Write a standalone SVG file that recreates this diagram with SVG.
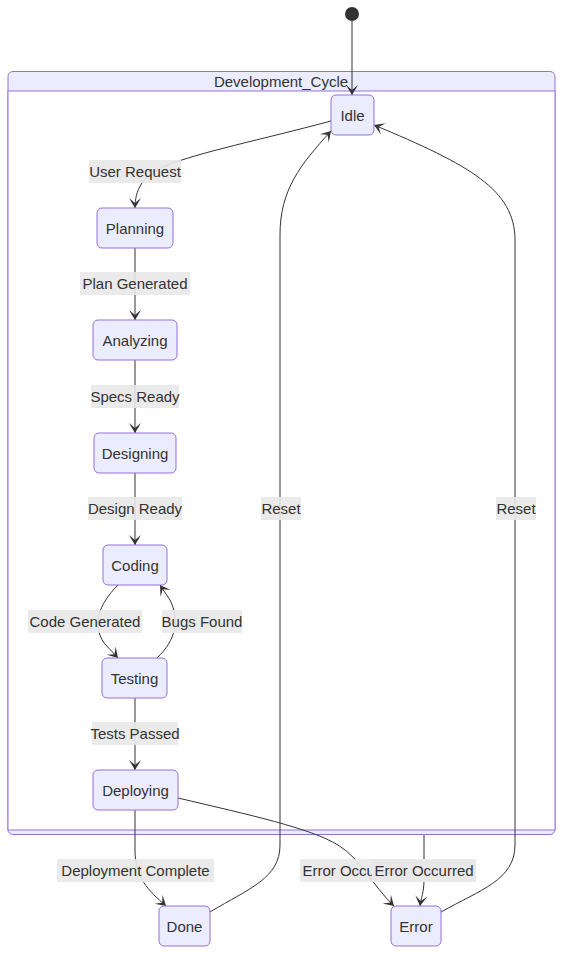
<svg xmlns="http://www.w3.org/2000/svg" width="571" height="968" viewBox="0 0 571 968">
<style>
.node rect{fill:#ECECFF;stroke:#9370DB;stroke-width:1}
text{font-family:"Liberation Sans",Arial,sans-serif;font-size:15px;fill:#333;text-anchor:middle;dominant-baseline:central}
.edge{fill:none;stroke:#333;stroke-width:1}
.lbl rect{fill:#e8e8e8;opacity:0.9}
</style>
<defs>
<marker id="arr" viewBox="0 0 20 14" refX="19" refY="7" markerWidth="20" markerHeight="14" markerUnits="userSpaceOnUse" orient="auto">
<path d="M19,7 L9,13 L14,7 L9,1 Z" fill="#333"/>
</marker>
</defs>
<g id="Development_Cycle">
<rect x="8" y="71.5" width="547" height="763" rx="5" fill="#ECECFF" stroke="#9370DB"/>
<rect x="8" y="91" width="547" height="739" fill="#fff" stroke="#9370DB"/>
<text x="281" y="81.5">Development_Cycle</text>
</g>
<g id="start"><circle cx="352" cy="14" r="7" fill="#333"/></g>
<g id="edges">
<path class="edge" d="M352,21 L352,95" marker-end="url(#arr)"/>
<path class="edge" d="M331,121 C260,140 200,152 165,166 C142,176 135,190 135,208" marker-end="url(#arr)"/>
<path class="edge" d="M135,248 L135,320" marker-end="url(#arr)"/>
<path class="edge" d="M135,360 L135,433" marker-end="url(#arr)"/>
<path class="edge" d="M135,473 L135,545" marker-end="url(#arr)"/>
<path class="edge" d="M118,585 C98,605 92,625 104,643 L118,658" marker-end="url(#arr)"/>
<path class="edge" d="M157,658 C176,640 180,620 170,600 L160,585" marker-end="url(#arr)"/>
<path class="edge" d="M135,697 L135,770" marker-end="url(#arr)"/>
<path class="edge" d="M135,810 L135,850 C135,878 148,890 166,906" marker-end="url(#arr)"/>
<path class="edge" d="M178,798 C250,815 310,828 338,845 C362,860 372,885 394,906" marker-end="url(#arr)"/>
<path class="edge" d="M424,835 L424,880 C424,892 421,898 420,906" marker-end="url(#arr)"/>
<path class="edge" d="M210,912 C250,888 280,878 280,845 L280,235 C280,190 300,165 331,131" marker-end="url(#arr)"/>
<path class="edge" d="M441,912 C480,890 515,880 515,845 L515,240 C515,190 470,165 374,125" marker-end="url(#arr)"/>
</g>
<g id="edge-labels">
<g class="lbl"><rect x="89" y="160" width="92" height="23"/><text x="135" y="171.5">User Request</text></g>
<g class="lbl"><rect x="80" y="272" width="110" height="23"/><text x="135" y="283.5">Plan Generated</text></g>
<g class="lbl"><rect x="91" y="385" width="88" height="23"/><text x="135" y="396.5">Specs Ready</text></g>
<g class="lbl"><rect x="88" y="497" width="94" height="23"/><text x="135" y="508.5">Design Ready</text></g>
<g class="lbl"><rect x="28" y="610" width="114" height="23"/><text x="85" y="621.5">Code Generated</text></g>
<g class="lbl"><rect x="162" y="610" width="80" height="23"/><text x="202" y="621.5">Bugs Found</text></g>
<g class="lbl"><rect x="92" y="722" width="86" height="23"/><text x="135" y="733.5">Tests Passed</text></g>
<g class="lbl"><rect x="57" y="859" width="157" height="23"/><text x="135.5" y="870.5">Deployment Complete</text></g>
<g class="lbl"><rect x="300" y="859" width="104" height="23"/><text x="352" y="870.5">Error Occurred</text></g>
<g class="lbl"><rect x="372" y="859" width="104" height="23" style="opacity:1"/><text x="424" y="870.5">Error Occurred</text></g>
<g class="lbl"><rect x="261" y="497" width="40" height="23"/><text x="281" y="508.5">Reset</text></g>
<g class="lbl"><rect x="496" y="497" width="40" height="23"/><text x="516" y="508.5">Reset</text></g>
</g>
<g id="Idle" class="node"><rect x="331" y="95" width="43" height="40" rx="5"/><text x="352.5" y="115">Idle</text></g>
<g id="Planning" class="node"><rect x="97" y="208" width="76" height="40" rx="5"/><text x="135" y="228">Planning</text></g>
<g id="Analyzing" class="node"><rect x="93" y="320" width="84" height="40" rx="5"/><text x="135" y="340">Analyzing</text></g>
<g id="Designing" class="node"><rect x="94" y="433" width="82" height="40" rx="5"/><text x="135" y="453">Designing</text></g>
<g id="Coding" class="node"><rect x="103" y="545" width="64" height="40" rx="5"/><text x="135" y="565">Coding</text></g>
<g id="Testing" class="node"><rect x="102" y="658" width="65" height="40" rx="5"/><text x="134.5" y="678">Testing</text></g>
<g id="Deploying" class="node"><rect x="93" y="770" width="85" height="40" rx="5"/><text x="135.5" y="790">Deploying</text></g>
<g id="Done" class="node"><rect x="159" y="906" width="51" height="40" rx="5"/><text x="184.5" y="926">Done</text></g>
<g id="Error" class="node"><rect x="391" y="906" width="50" height="40" rx="5"/><text x="416" y="926">Error</text></g>
</svg>
